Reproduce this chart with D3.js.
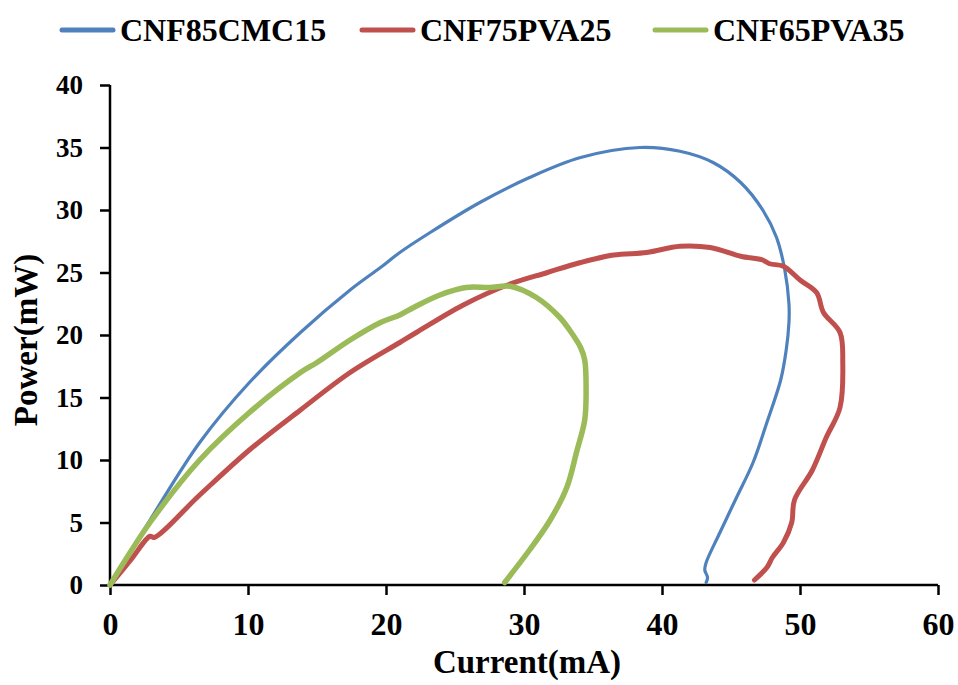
<!DOCTYPE html>
<html>
<head>
<meta charset="utf-8">
<script src="https://cdn.jsdelivr.net/npm/d3@7/dist/d3.min.js"></script>
<style>
  html, body { margin: 0; padding: 0; background: #fff; }
  svg text { font-family: "Liberation Serif", "Times New Roman", serif; font-weight: bold; fill: #000; }
</style>
</head>
<body>
<svg id="chart" width="958" height="685"></svg>
<script>
// Power–current curves for the three membrane compositions
const seriesNames = ["CNF85CMC15", "CNF75PVA25", "CNF65PVA35"];

const cmcCurrent = [0, 1, 2.9, 6.5, 10.1, 13.8, 17.4, 19.6, 21.0, 23.2, 26.8, 30.4, 34.1, 38.4, 41.3, 43.7, 45.7, 47.3, 48.3, 48.9, 49.2, 49.2, 49.0, 48.6, 47.6, 46.6, 45.4, 44.2, 43.2, 43.1, 43.3, 43.2];
const cmcPower   = [0, 1.8, 5.2, 11.4, 16.2, 20.2, 23.6, 25.4, 26.6, 28.2, 30.6, 32.6, 34.2, 35.0, 34.7, 33.8, 32.2, 30.0, 27.8, 25.2, 22.5, 21.0, 18.8, 16.4, 13.0, 9.8, 7.0, 4.2, 1.8, 1.2, 0.6, 0.2];

const pva25Current = [0, 1.5, 2.9, 3.2, 6.5, 10.1, 13.8, 17.4, 21.0, 22.2, 25.6, 28.8, 31.7, 34.1, 36.5, 38.9, 41.3, 43.5, 45.7, 47.3, 47.8, 48.8, 50.0, 51.2, 51.7, 52.9, 53.1, 52.9, 51.9, 50.9, 49.6, 49.4, 48.8, 48.0, 47.6, 46.7];
const pva25Power   = [0, 2.0, 3.9, 3.8, 7.2, 10.8, 14.0, 17.0, 19.4, 20.2, 22.4, 24.0, 25.0, 25.8, 26.4, 26.6, 27.1, 27.0, 26.3, 26.0, 25.7, 25.5, 24.4, 23.4, 21.8, 20.2, 17.8, 14.2, 11.8, 9.2, 6.8, 5.0, 3.4, 2.2, 1.4, 0.4];

const pva35Current = [0, 1, 2.9, 6.5, 10.1, 13.8, 15.0, 17.4, 19.6, 21.0, 22.0, 23.9, 25.8, 27.5, 29.0, 30.9, 32.6, 33.3, 34.1, 34.4, 34.5, 34.4, 33.8, 33.1, 31.9, 30.4, 28.6];
const pva35Power   = [0, 1.8, 5.0, 10.0, 13.8, 17.0, 17.8, 19.6, 21.0, 21.6, 22.2, 23.2, 23.8, 23.8, 23.9, 23.0, 21.4, 20.4, 19.0, 18.0, 15.4, 13.2, 10.6, 7.8, 5.2, 2.8, 0.2];

const xTicks = [0, 10, 20, 30, 40, 50, 60];
const yTicks = [0, 5, 10, 15, 20, 25, 30, 35, 40];

const colors = ["#4F81BD", "#C0504D", "#9BBB59"];
const widths = [3.2, 5, 5.5];

const series = [
  { name: seriesNames[0], pts: cmcCurrent.map((c, i) => [c, cmcPower[i]]) },
  { name: seriesNames[1], pts: pva25Current.map((c, i) => [c, pva25Power[i]]) },
  { name: seriesNames[2], pts: pva35Current.map((c, i) => [c, pva35Power[i]]) }
];

const svg = d3.select("#chart");
const plot = { left: 110, right: 938, top: 85, bottom: 585 };

const x = d3.scaleLinear().domain([0, 60]).range([plot.left, plot.right]);
const y = d3.scaleLinear().domain([0, 40]).range([plot.bottom, plot.top]);

const fontFamily = '"Liberation Serif", "Times New Roman", serif';

// Axes
const xAxis = svg.append("g")
  .attr("transform", `translate(0,${plot.bottom})`)
  .call(d3.axisBottom(x).tickValues(xTicks).tickSize(10).tickPadding(17).tickFormat(d3.format("d")));
const yAxis = svg.append("g")
  .attr("transform", `translate(${plot.left},0)`)
  .call(d3.axisLeft(y).tickValues(yTicks).tickSize(10).tickPadding(17).tickFormat(d3.format("d")));

[xAxis, yAxis].forEach(g => {
  g.select(".domain").attr("stroke", "#000").attr("stroke-width", 2.5);
  g.selectAll(".tick line").attr("stroke", "#000").attr("stroke-width", 2.5);
  g.selectAll(".tick text").style("font-weight", "bold")
    .style("font-family", fontFamily).attr("fill", "#000");
});
xAxis.selectAll(".tick text").style("font-size", "32px");
yAxis.selectAll(".tick text").style("font-size", "27px");
// axis lines without outer end caps
xAxis.select(".domain").attr("d", `M${plot.left},0H${plot.right}`);
yAxis.select(".domain").attr("d", `M0,${plot.bottom}V${plot.top}`);

// Curves
const line = d3.line()
  .x(d => x(d[0]))
  .y(d => y(d[1]))
  .curve(d3.curveCatmullRom.alpha(0.5));

svg.append("g").selectAll("path")
  .data(series)
  .join("path")
  .attr("d", d => line(d.pts))
  .attr("fill", "none")
  .attr("stroke", (d, i) => colors[i])
  .attr("stroke-width", (d, i) => widths[i])
  .attr("stroke-linejoin", "round")
  .attr("stroke-linecap", "round");

// Axis titles
svg.append("text")
  .attr("x", 527)
  .attr("y", 673)
  .attr("text-anchor", "middle")
  .style("font-size", "33px")
  .text("Current(mA)");

svg.append("text")
  .attr("transform", `translate(37,340) rotate(-90)`)
  .attr("text-anchor", "middle")
  .style("font-size", "33px")
  .text("Power(mW)");

// Legend
const legendX = [62, 362, 655];
const legend = svg.append("g").selectAll("g")
  .data(series)
  .join("g")
  .attr("transform", (d, i) => `translate(${legendX[i]},30)`);
legend.append("line")
  .attr("x1", 0).attr("x2", 51).attr("y1", 0).attr("y2", 0)
  .attr("stroke", (d, i) => colors[i])
  .attr("stroke-width", 5)
  .attr("stroke-linecap", "round");
legend.append("text")
  .attr("x", 58)
  .attr("y", 11)
  .style("font-size", "32px")
  .text(d => d.name);
</script>
</body>
</html>
